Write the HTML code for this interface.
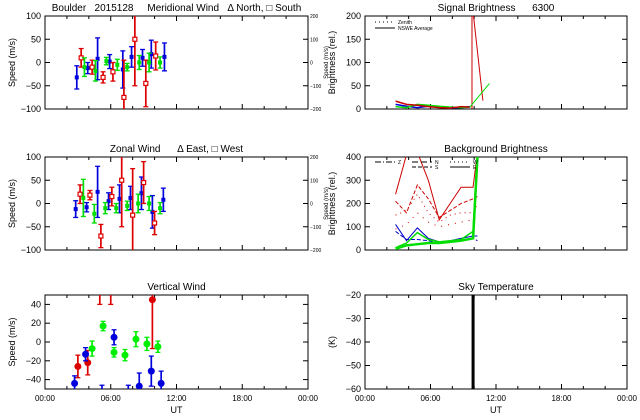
<!DOCTYPE html>
<html><head><meta charset="utf-8">
<style>
html,body{margin:0;padding:0;background:#fff;}
svg{display:block;font-family:"Liberation Sans",sans-serif;}
text{white-space:pre;}
</style></head>
<body>
<svg id="chart" width="640" height="420" viewBox="0 0 640 420" xmlns="http://www.w3.org/2000/svg" xml:space="preserve"></svg>
<script>
// ---- data arrays (time in UT hours) ----
const merBlueT=[2.9,3.9,4.8,5.9,7.1,7.9,8.9,9.7,10.9];
const merBlueV=[-32,-12,8,2,-15,12,10,18,12];
const merBlueE=[25,12,45,15,40,22,18,30,30];
const merRedT=[3.3,4.3,5.3,6.2,7.2,8.2,9.2,10.1];
const merRedV=[10,-10,-32,-20,-75,50,-45,14];
const merRedE=[20,15,12,20,80,100,50,30];
const merGreenT=[3.6,4.6,5.6,6.6,7.5,8.6,9.5,10.5];
const merGreenV=[-10,-18,3,-5,-10,0,0,0];
const merGreenE=[20,22,8,12,8,15,20,12];

const zonBlueT=[2.8,3.8,4.8,5.8,6.8,7.8,8.8,9.8,10.8];
const zonBlueV=[-12,-8,25,5,10,12,22,-18,8];
const zonBlueE=[18,10,55,18,30,25,35,35,25];
const zonRedT=[3.2,4.1,5.1,6.1,7.0,8.0,9.0,10.0];
const zonRedV=[20,18,-70,15,50,-25,45,-42];
const zonRedE=[20,10,25,20,100,100,45,25];
const zonGreenT=[3.5,4.5,5.5,6.5,7.5,8.5,9.5,10.5];
const zonGreenV=[12,-22,-10,-10,-5,0,0,-10];
const zonGreenE=[40,20,12,10,10,20,15,12];

const verRedT=[3.0,3.9,5.0,6.0,9.8];
const verRedV=[-26,-22,60,60,45];
const verRedE=[12,13,20,20,52];
const verBlueT=[2.7,3.7,5.2,6.3,7.6,8.6,9.7,10.6];
const verBlueV=[-44,-13,-60,5,-60,-47,-31,-44];
const verBlueE=[8,7,14,8,14,14,16,13];
const verGreenT=[4.3,5.3,6.3,7.3,8.3,9.3,10.3];
const verGreenV=[-7,17,-11,-14,3,-2,-5];
const verGreenE=[8,5,5,6,8,7,6];

const sigT=[2.8,3.8,4.8,5.8,6.8,7.8,8.8,9.6];
const sigRed=[17,10,8,5,3,2,5,4];
const sigBlue=[10,6,3,6,4,2,3,5];
const sigGreen=[5,3,10,8,6,4,3,4];
const sigRedEndT=[9.8,9.8,10.8];const sigRedEndV=[0,230,18];
const sigGreenEndT=[9.6,11.4];const sigGreenEndV=[4,55];

const bgT=[2.8,3.8,4.8,5.8,6.8,7.8,8.8,9.9,10.3];
const bgRed1=[240,410,420,300,130,200,270,270,420];
const bgRed2=[210,160,280,220,140,170,200,220,230];
const bgRed3=[150,170,240,160,120,150,160,160,200];
const bgRed4=[90,110,160,120,100,110,120,130,150];
const bgBlue1=[110,40,95,50,35,40,50,60,60];
const bgBlue2=[80,45,45,40,30,35,45,50,40];
const bgGreen1=[10,30,75,45,35,40,45,80,420];
const bgGreen2=[5,20,25,30,30,35,40,50,400];

const skyT=[9.9,9.9];const skyV=[-60,-20];
const xTicks=["00:00","06:00","12:00","18:00","00:00"];

// ---- drawing ----
const svg=document.getElementById('chart');
const NS='http://www.w3.org/2000/svg';
function mk(tag,at,parent){const e=document.createElementNS(NS,tag);for(const k in at)e.setAttribute(k,at[k]);(parent||svg).appendChild(e);return e;}
function txt(x,y,s,size,anchor,parent,rot){const e=mk('text',{x:x,y:y,'font-size':size,'text-anchor':anchor||'middle',fill:'#000'},parent);if(rot)e.setAttribute('transform','rotate(-90 '+x+' '+y+')');e.textContent=s;return e;}

function panel(name,x0,x1,y0,y1,ymin,ymax,yticks,title,ylabel,showX,rightAxis){
  const g=mk('g',{});
  
  
  const sx=h=>x0+(x1-x0)*h/24, sy=v=>y1-(y1-y0)*(v-ymin)/(ymax-ymin);
  mk('rect',{x:x0,y:y0,width:x1-x0,height:y1-y0,fill:'none',stroke:'#000','stroke-width':1},g);
  for(let h=0;h<=24;h+=2){const len=(h%6==0)?5:3;
    mk('line',{x1:sx(h),x2:sx(h),y1:y1,y2:y1-len,stroke:'#000'},g);
    mk('line',{x1:sx(h),x2:sx(h),y1:y0,y2:y0+len,stroke:'#000'},g);}
  yticks.forEach(v=>{mk('line',{x1:x0,x2:x0+5,y1:sy(v),y2:sy(v),stroke:'#000'},g);
    mk('line',{x1:x1,x2:x1-5,y1:sy(v),y2:sy(v),stroke:'#000'},g);
    const t=txt(x0-4,sy(v)+3,String(v).replace('-','\u2212'),9,'end',g);
    });
  const tt=txt((x0+x1)/2,y0-5,title,10,'middle',g);
  
  const yl=txt(x0-30,(y0+y1)/2,ylabel,9,'middle',g,true);
  
  if(showX){xTicks.forEach((s,i)=>{const t=txt(sx(i*6),y1+12,s,8,'middle',g);
      });
    const xl=txt((x0+x1)/2,y1+24,'UT',9,'middle',g);
    }
  if(rightAxis){[200,100,0,-100,-200].forEach(v=>{const yy=y1-(y1-y0)*(v+200)/400;
      txt(x1+2,yy+2,String(v).replace('-','\u2212'),5,'start',g);});
    txt(x1+20,(y0+y1)/2,'Speed (m/s)',6,'middle',g,true);}
  const cp=mk('clipPath',{id:'c'+name},g);mk('rect',{x:x0,y:y0,width:x1-x0,height:y1-y0},cp);
  const data=mk('g',{'clip-path':'url(#c'+name+')'},g);
  return {sx,sy,g:data};
}
function errSeries(p,T,V,E,color,name,marker){
  T.forEach((t,i)=>{const x=p.sx(t),y=p.sy(V[i]),ya=p.sy(V[i]+E[i]),yb=p.sy(V[i]-E[i]);
    const eg=mk('g',{},p.g);
    
    
    mk('line',{x1:x,x2:x,y1:ya,y2:yb,stroke:color,'stroke-width':1.7},eg);
    mk('line',{x1:x-2.5,x2:x+2.5,y1:ya,y2:ya,stroke:color,'stroke-width':1.3},eg);
    mk('line',{x1:x-2.5,x2:x+2.5,y1:yb,y2:yb,stroke:color,'stroke-width':1.3},eg);
    if(marker==='dot')mk('circle',{cx:x,cy:y,r:3.5,fill:color},eg);
    else if(marker==='open')mk('rect',{x:x-2,y:y-2,width:4,height:4,fill:'#fff',stroke:color,'stroke-width':1.2},eg);
    else mk('rect',{x:x-2,y:y-2,width:4,height:4,fill:color},eg);});
}
function line(p,T,V,color,name,w,dash){
  const pl=mk('polyline',{points:T.map((t,i)=>p.sx(t)+','+p.sy(V[i])).join(' '),fill:'none',stroke:color,'stroke-width':w||1},p.g);
  if(dash)pl.setAttribute('stroke-dasharray',dash);
  
  
}
const L0=45,L1=308,R0=365,R1=627;
const T1=16,B1=109,T2=157,B2=250,T3=295,B3=389;

const p1=panel('meridional-wind-panel',L0,L1,T1,B1,-100,100,[100,50,0,-50,-100],'Boulder   2015128     Meridional Wind   \u0394 North, \u25A1 South','Speed (m/s)',false,true);
errSeries(p1,merBlueT,merBlueV,merBlueE,'#0000dd','meridional-blue-point','sq');
errSeries(p1,merRedT,merRedV,merRedE,'#dd0000','meridional-red-point','open');
errSeries(p1,merGreenT,merGreenV,merGreenE,'#00dd00','meridional-green-point','sq');

const p2=panel('zonal-wind-panel',L0,L1,T2,B2,-100,100,[100,50,0,-50,-100],'Zonal Wind      \u0394 East, \u25A1 West','Speed (m/s)',false,true);
errSeries(p2,zonBlueT,zonBlueV,zonBlueE,'#0000dd','zonal-blue-point','sq');
errSeries(p2,zonRedT,zonRedV,zonRedE,'#dd0000','zonal-red-point','open');
errSeries(p2,zonGreenT,zonGreenV,zonGreenE,'#00dd00','zonal-green-point','sq');

const p3=panel('vertical-wind-panel',L0,L1,T3,B3,-50,50,[40,20,0,-20,-40],'Vertical Wind','Speed (m/s)',true,false);
errSeries(p3,verRedT,verRedV,verRedE,'#dd0000','vertical-red-point','dot');
errSeries(p3,verBlueT,verBlueV,verBlueE,'#0000dd','vertical-blue-point','dot');
errSeries(p3,verGreenT,verGreenV,verGreenE,'#00ee00','vertical-green-point','dot');

const p4=panel('signal-brightness-panel',R0,R1,T1,B1,0,200,[200,150,100,50,0],'Signal Brightness      6300','Brightness (rel.)',false,false);
line(p4,sigT,sigBlue,'#0000dd','signal-blue-line',1.5);
line(p4,sigT,sigGreen,'#00dd00','signal-green-line',1.5);
line(p4,sigT,sigRed,'#cc0000','signal-red-line',1.5);
line(p4,sigRedEndT,sigRedEndV,'#cc0000','signal-red-spike',1);
line(p4,sigGreenEndT,sigGreenEndV,'#00dd00','signal-green-rise',1);
{const lg=mk('g',{});
 mk('line',{x1:375,x2:395,y1:22,y2:22,stroke:'#000','stroke-dasharray':'1,3'},lg);txt(398,24,'Zenith',5,'start',lg);
 mk('line',{x1:375,x2:395,y1:28,y2:28,stroke:'#000'},lg);txt(398,30,'NSWE Average',5,'start',lg);}

const p5=panel('background-brightness-panel',R0,R1,T2,B2,0,400,[400,300,200,100,0],'Background Brightness','Brightness (rel.)',false,false);
line(p5,bgT,bgRed1,'#cc0000','background-red-line');
line(p5,bgT,bgRed2,'#cc0000','background-red-line',1,'4,2');
line(p5,bgT,bgRed3,'#cc0000','background-red-line',1,'1,4');
line(p5,bgT,bgRed4,'#cc0000','background-red-line',1,'1,6');
line(p5,bgT,bgBlue1,'#0000cc','background-blue-line');
line(p5,bgT,bgBlue2,'#0000cc','background-blue-line',1,'4,2');
line(p5,bgT,bgGreen1,'#00dd00','background-green-line',1.5);
line(p5,bgT,bgGreen2,'#00dd00','background-green-line',2.5);
{const lg=mk('g',{});
 mk('line',{x1:375,x2:395,y1:162,y2:162,stroke:'#000','stroke-dasharray':'6,2,1,2'},lg);txt(398,164,'Z',5,'start',lg);
 mk('line',{x1:412,x2:432,y1:162,y2:162,stroke:'#000','stroke-dasharray':'6,3'},lg);txt(435,164,'N',5,'start',lg);
 mk('line',{x1:412,x2:432,y1:167,y2:167,stroke:'#000','stroke-dasharray':'4,2'},lg);txt(435,169,'S',5,'start',lg);
 mk('line',{x1:450,x2:470,y1:162,y2:162,stroke:'#000','stroke-dasharray':'1,3'},lg);txt(473,164,'W',5,'start',lg);
 mk('line',{x1:450,x2:470,y1:167,y2:167,stroke:'#000'},lg);txt(473,169,'E',5,'start',lg);}

const p6=panel('sky-temperature-panel',R0,R1,T3,B3,-60,-20,[-20,-30,-40,-50,-60],'Sky Temperature','(K)',true,false);
line(p6,skyT,skyV,'#000','sky-temperature-line',3);
</script>
</body></html>
